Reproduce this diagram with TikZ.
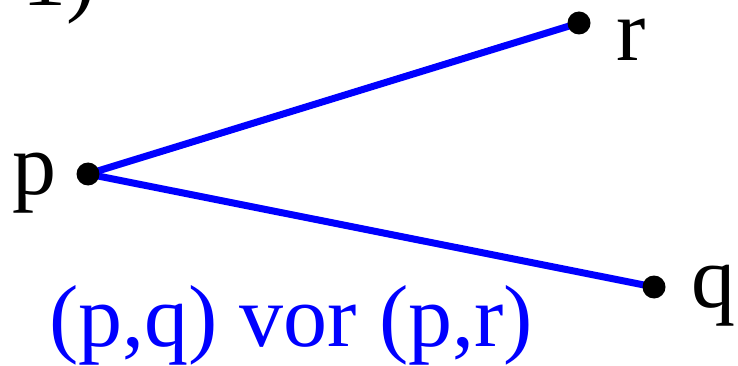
\documentclass[tikz,border=0pt]{standalone}
\usepackage{fontspec}
\setmainfont{Liberation Serif}

\begin{document}
\begin{tikzpicture}[
  x=1pt,
  y=-1pt,
  edgeline/.style={
    draw=blue,
    line width=7pt
  },
  vertexdot/.style={
    fill=black,
    draw=none
  },
  pointlabel/.style={
    anchor=base west,
    inner sep=0pt,
    text height=0.5em,
    text depth=0.2em,
    font=\fontsize{88}{100}\selectfont
  }
]

\useasboundingbox (0,0) rectangle (738,366);

\coordinate (p) at (88,174);
\coordinate (r) at (579,23);
\coordinate (q) at (654,287);

\draw[edgeline] (p) -- (r);
\draw[edgeline] (p) -- (q);

\foreach \v in {p,r,q} {
  \fill[vertexdot] (\v) circle[radius=11.5];
}

\node[pointlabel] (plabel) at (12,194) {p};
\node[pointlabel] (rlabel) at (616,61) {r};
\node[pointlabel] (qlabel) at (691,307) {q};
\node[pointlabel] (number) at (22,6) {1)};
\node[pointlabel, text=blue] (order) at (49,346) {(p,q) vor (p,r)};

\end{tikzpicture}
\end{document}
